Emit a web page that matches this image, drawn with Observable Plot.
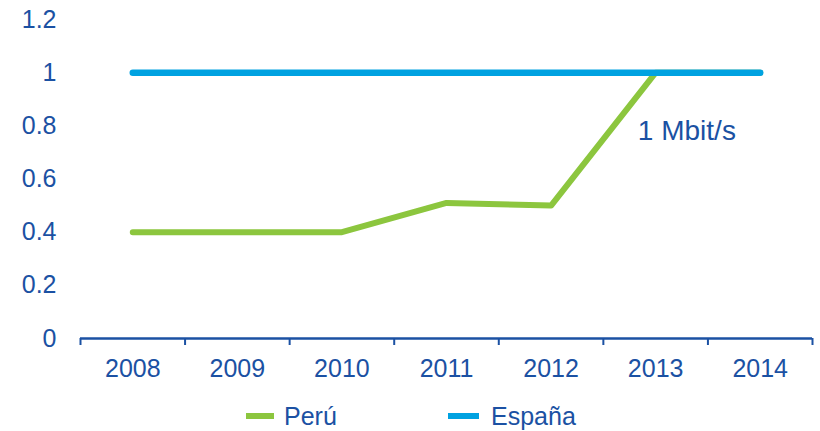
<!DOCTYPE html>
<html>
<head>
<meta charset="utf-8">
<script src="https://cdn.jsdelivr.net/npm/d3@7"></script>
<script src="https://cdn.jsdelivr.net/npm/@observablehq/plot@0.6"></script>
<style>
  body { margin: 0; background: #fff; }
  #wrap { position: relative; width: 820px; height: 431px; font-family: "Liberation Sans", Arial, sans-serif; color: #1B51A3; }
  .leg { position: absolute; display: flex; align-items: center; font-size: 25px; top: 400px; height: 32px; }
  .sw { width: 28px; height: 6px; margin-right: 10px; }
</style>
</head>
<body>
<div id="wrap"></div>
<script>
const years = ["2008", "2009", "2010", "2011", "2012", "2013", "2014"];
const peru = [0.4, 0.4, 0.4, 0.51, 0.5, 1, 1];
const espana = [1, 1, 1, 1, 1, 1, 1];
const yTicks = [0, 0.2, 0.4, 0.6, 0.8, 1, 1.2];
const seriesNames = ["Perú", "España"];
const annotation = [{label: "1 Mbit/s", x: 4.83, y: 0.78}];

const textColor = "#1B51A3";
const green = "#8CC63E";
const blue = "#00A2E1";

const rows = years.map((yr, i) => ({i, year: yr, peru: peru[i], espana: espana[i]}));
const bounds = d3.range(years.length + 1).map(k => k - 0.5);

const chart = Plot.plot({
  width: 820,
  height: 390,
  marginTop: 19,
  marginBottom: 52,
  marginLeft: 80,
  marginRight: 8,
  style: {fontFamily: '"Liberation Sans", Arial, sans-serif', fontSize: "25px", color: textColor, background: "white", overflow: "visible"},
  x: {domain: [-0.5, years.length - 0.5]},
  y: {domain: [0, 1.2]},
  marks: [
    Plot.axisY({ticks: yTicks, tickSize: 0, tickPadding: 24, tickFormat: d => String(d), label: null, fontSize: 25}),
    Plot.axisX({ticks: bounds, tickFormat: () => "", tickSize: 7, stroke: textColor, strokeWidth: 2, label: null}),
    Plot.axisX({ticks: d3.range(years.length), tickFormat: i => years[i], tickSize: 0, tickPadding: 21, label: null, fontSize: 25}),
    Plot.ruleY([0], {stroke: textColor, strokeWidth: 2.5}),
    Plot.lineY(rows, {x: "i", y: "peru", stroke: green, strokeWidth: 6, strokeLinecap: "round", strokeLinejoin: "round"}),
    Plot.lineY(rows, {x: "i", y: "espana", stroke: blue, strokeWidth: 6.5, strokeLinecap: "round", strokeLinejoin: "round"}),
    Plot.text(annotation, {x: "x", y: "y", text: "label", textAnchor: "start", fontSize: 28, fill: textColor})
  ]
});

const wrap = document.getElementById("wrap");
wrap.appendChild(chart);

const legendItems = [
  {name: seriesNames[0], color: green, left: 246},
  {name: seriesNames[1], color: blue, left: 448}
];
for (const it of legendItems) {
  const d = document.createElement("div");
  d.className = "leg";
  d.style.left = it.left + "px";
  const sw = document.createElement("span");
  sw.className = "sw";
  sw.style.background = it.color;
  if (it.name === "España") sw.style.width = "31px", sw.style.marginRight = "12px";
  const t = document.createElement("span");
  t.textContent = it.name;
  d.appendChild(sw); d.appendChild(t);
  wrap.appendChild(d);
}
</script>
</body>
</html>
